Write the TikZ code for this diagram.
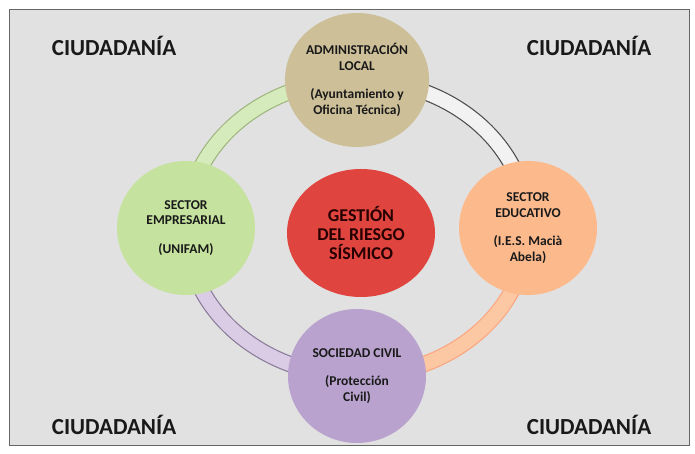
\documentclass[tikz,border=0pt]{standalone}
\usepackage{fontspec}
\setmainfont{Carlito}
\usetikzlibrary{calc,shapes.geometric}
\definecolor{fondo}{HTML}{E1E1E1}
\definecolor{beige}{HTML}{CDBF98}
\definecolor{verde}{HTML}{C5E39E}
\definecolor{naranja}{HTML}{FBB98C}
\definecolor{lila}{HTML}{B9A3CE}
\definecolor{rojo}{HTML}{E0443E}
\begin{document}
\begin{tikzpicture}[x=1pt,y=1pt,line cap=butt,line join=miter]
\tikzset{declare function={rx=171;ry=148;},
actor/.style={ellipse,minimum width=138pt,minimum height=134pt,inner sep=0pt,align=center,
  font=\bfseries\fontsize{13.5}{15.5}\selectfont,text=black!90},
band/.style={line width=1.2pt,double distance=14pt},
pueblo/.style={font=\bfseries\fontsize{23}{25}\selectfont,text=black!90}
}
\useasboundingbox (0,0) rectangle (695,454);
\fill[white] (0,0) rectangle (695,454);
\draw[fill=fondo,draw=black!60,line width=1pt] (9,8) rectangle (689,444);
\coordinate (ring) at (357,226);
% esquinas
\node[pueblo] (c1) at (114,408) {CIUDADANÍA};
\node[pueblo] (c2) at (589,408) {CIUDADANÍA};
\node[pueblo] (c3) at (114,29) {CIUDADANÍA};
\node[pueblo] (c4) at (589,29) {CIUDADANÍA};
% actores
\coordinate (adm) at ($(ring)+(90:rx and ry)$);
\coordinate (emp) at ($(ring)+(180:rx and ry)$);
\coordinate (soc) at ($(ring)+(270:rx and ry)$);
\coordinate (edu) at ($(ring)+(0:rx and ry)$);
\draw[band,draw=verde!80!black,double=verde!70!white] (adm) arc[start angle=90,end angle=180,x radius=rx,y radius=ry];
\draw[band,draw=lila!75!black,double=lila!55!white] (emp) arc[start angle=180,end angle=270,x radius=rx,y radius=ry];
\draw[band,draw=naranja!90!red,double=naranja!80!white] (soc) arc[start angle=270,end angle=360,x radius=rx,y radius=ry];
\draw[band,draw=black!70,double=white!95!black] (edu) arc[start angle=0,end angle=90,x radius=rx,y radius=ry];
\node[actor,fill=beige] (nadm) at (adm) {ADMINISTRACIÓN\\LOCAL\\[13pt](Ayuntamiento y\\Oficina Técnica)};
\node[actor,fill=verde] (nemp) at (emp) {SECTOR\\EMPRESARIAL\\[13pt](UNIFAM)};
\node[actor,fill=lila] (nsoc) at (soc) {SOCIEDAD CIVIL\\[13pt](Protección\\Civil)};
\node[actor,fill=naranja] (nedu) at (edu) {SECTOR\\EDUCATIVO\\[13pt](I.E.S. Macià\\Abela)};
\node[actor,fill=rojo,minimum width=148pt,minimum height=128pt,font=\bfseries\fontsize{18}{19}\selectfont,text=black!85!red] (ges) at ($(ring)+(4,-5)$) {GESTIÓN\\DEL RIESGO\\SÍSMICO};
\end{tikzpicture}
\end{document}
